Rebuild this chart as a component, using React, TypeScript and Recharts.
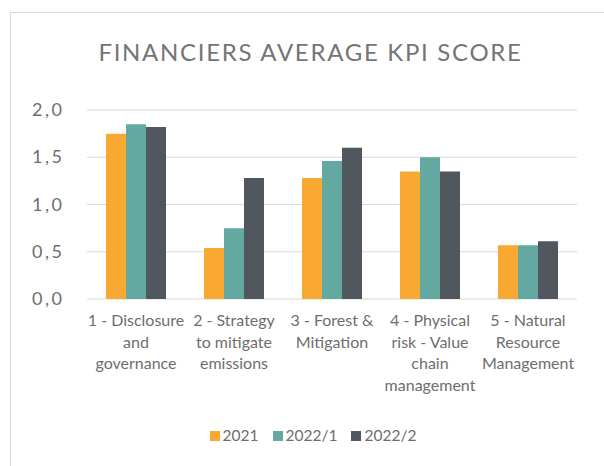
import { Bar, BarChart, CartesianGrid, Legend, XAxis, YAxis } from 'recharts'

const categories = [
    '1 - Disclosure\nand\ngovernance',
    '2 - Strategy\nto mitigate\nemissions',
    '3 - Forest &\nMitigation',
    '4 - Physical\nrisk - Value\nchain\nmanagement',
    '5 - Natural\nResource\nManagement',
]
const score2021 = [1.75, 0.54, 1.28, 1.35, 0.57]
const score2022a = [1.85, 0.75, 1.46, 1.5, 0.57]
const score2022b = [1.82, 1.28, 1.6, 1.35, 0.61]
const yTicks = [0, 0.5, 1, 1.5, 2]

const series = [
    { key: 'v2021', name: '2021', color: '#f9a932' },
    { key: 'v2022a', name: '2022/1', color: '#63a9a1' },
    { key: 'v2022b', name: '2022/2', color: '#50575e' },
]

const data = categories.map((c, i) => ({
    cat: c,
    v2021: score2021[i],
    v2022a: score2022a[i],
    v2022b: score2022b[i],
}))

const FONT = 'Lato, "Open Sans", sans-serif'
const TEXT = '#6e6e6e'

function XTick({ x, y, payload }: any) {
    const lines = String(payload.value).split('\n')
    return (
        <text x={x} y={y} textAnchor="middle" fill={TEXT} fontSize={16} fontFamily={FONT}>
            {lines.map((l, i) => (
                <tspan key={i} x={x} dy={i === 0 ? 19 : 21.5}>{l}</tspan>
            ))}
        </text>
    )
}

// glyphs end about 25px left of the plot area
function YTick({ y, payload }: any) {
    return (
        <text x={64.5} y={y} dy={6} textAnchor="end" fill={TEXT} fontSize={18} fontFamily={FONT} letterSpacing={2.5}>
            {Number(payload.value).toFixed(1).replace('.', ',')}
        </text>
    )
}

function LegendBox() {
    return (
        <div style={{ display: 'flex', justifyContent: 'center', alignItems: 'center', fontFamily: FONT, fontSize: 15.5, color: TEXT, lineHeight: '15px' }}>
            {series.map((s) => (
                <div key={s.key} style={{ display: 'flex', alignItems: 'center', margin: '0 7px' }}>
                    <span style={{ width: 10, height: 10, background: s.color, marginRight: 3, display: 'inline-block' }} />
                    <span>{s.name}</span>
                </div>
            ))}
        </div>
    )
}

export default function App() {
    return (
        <div style={{ position: 'absolute', left: 0, top: 0, width: 604, height: 466, overflow: 'hidden', background: '#fff' }}>
            <div style={{ position: 'absolute', left: 10, top: 12, width: 620, height: 480, border: '1px solid #d9d9d9' }} />
            <div style={{ position: 'absolute', left: 0, top: 40, width: 621, textAlign: 'center', fontFamily: FONT, fontSize: 24, letterSpacing: 1.7, lineHeight: '24px', color: '#757575' }}>
                FINANCIERS AVERAGE KPI SCORE
            </div>
            <div style={{ position: 'absolute', left: 0, top: 0 }}>
                <BarChart
                    width={604}
                    height={466}
                    data={data}
                    margin={{ top: 110, right: 27, left: 0, bottom: 107 }}
                    barCategoryGap="19.4%"
                    barGap={0}
                >
                    <CartesianGrid horizontal vertical={false} stroke="#d9d9d9" strokeWidth={1.2} />
                    <XAxis dataKey="cat" height={60} interval={0} axisLine={false} tickLine={false} tick={<XTick />} />
                    <YAxis
                        width={87}
                        domain={[0, 2]}
                        ticks={yTicks}
                        axisLine={false}
                        tickLine={false}
                        tick={<YTick />}
                    />
                    <Legend verticalAlign="middle" wrapperStyle={{ left: 20, width: 586, top: 428 }} content={<LegendBox />} />
                    {series.map((s) => (
                        <Bar key={s.key} dataKey={s.key} name={s.name} fill={s.color} isAnimationActive={false} />
                    ))}
                </BarChart>
            </div>
        </div>
    )
}
